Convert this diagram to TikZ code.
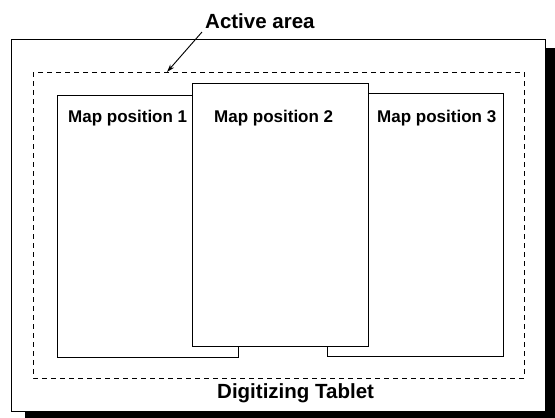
\documentclass[tikz,border=0pt]{standalone}
\usepackage{fontspec}
\setmainfont{Liberation Sans}
\usetikzlibrary{arrows.meta}
\begin{document}
\begin{tikzpicture}[x=1pt,y=-1pt,
  box/.style={draw=black,line width=0.9pt,fill=white},
  dashbox/.style={draw=black,line width=0.9pt,dash pattern=on 5pt off 4pt},
  maplabel/.style={anchor=base west,inner sep=0pt,font=\bfseries\fontsize{17}{20}\selectfont},
  biglabel/.style={anchor=base west,inner sep=0pt,font=\bfseries\fontsize{20.5}{24}\selectfont}]
\useasboundingbox (0,0) rectangle (555,418);
% shadow and tablet
\fill[black] (25,48) rectangle (555,418);
\draw[box] (11,39) rectangle (545,411);
% active area
\draw[dashbox] (33,72) rectangle (524,378);
\coordinate (areaTop) at (167,72);
% maps
\draw[box] (57,95) rectangle (238,357);
\draw[box] (327,93) rectangle (503,356);
\draw[box] (192,83) rectangle (368,346);
% labels
\node[maplabel] (m1) at (68,122) {Map position 1};
\node[maplabel] (m2) at (214,122) {Map position 2};
\node[maplabel] (m3) at (377,122) {Map position 3};
\node[biglabel] (active) at (205,28) {Active area};
\node[biglabel] (tablet) at (217,398) {Digitizing Tablet};
\coordinate (arrowStart) at (202,32);
\draw[line width=0.9pt,-{Stealth[length=8pt,width=5pt]}] (arrowStart) -- (areaTop);
\end{tikzpicture}
\end{document}
